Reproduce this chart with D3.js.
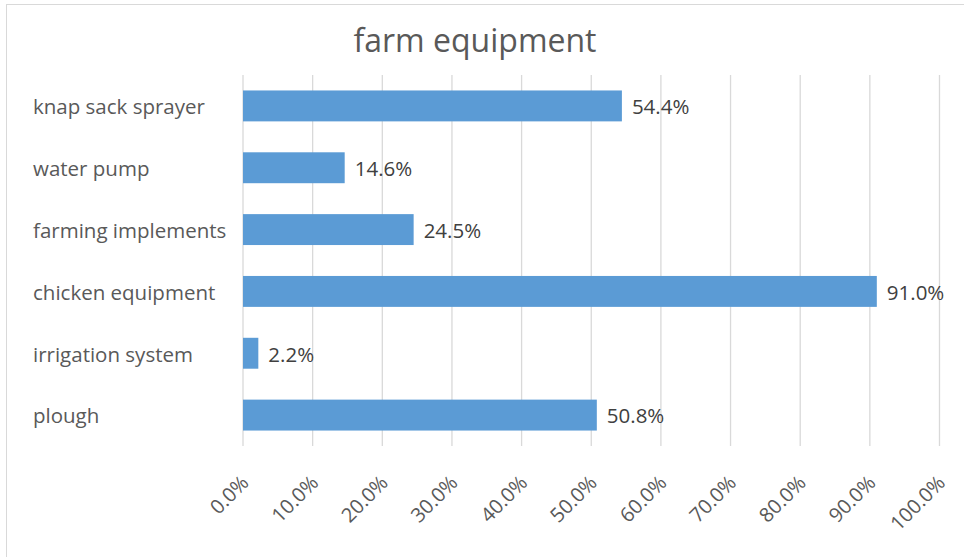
<!DOCTYPE html>
<html>
<head>
<meta charset="utf-8">
<script src="https://cdn.jsdelivr.net/npm/d3@7"></script>
<style>
  html, body { margin: 0; padding: 0; background: #fff; }
  svg { display: block; font-family: "Open Sans", "Noto Sans", sans-serif; }
</style>
</head>
<body>
<svg id="chart" width="964" height="557"></svg>
<script>
const categories = ["knap sack sprayer", "water pump", "farming implements", "chicken equipment", "irrigation system", "plough"];
const values = [54.4, 14.6, 24.5, 91.0, 2.2, 50.8];
const tickValues = [0, 10, 20, 30, 40, 50, 60, 70, 80, 90, 100];
const title = "farm equipment";

const svg = d3.select("#chart");
const W = 964, H = 557;
const margin = { left: 243, right: 24.5, top: 75, bottom: 111 };

svg.append("rect").attr("x", 6.5).attr("y", 4.5).attr("width", 1000).attr("height", 1000)
  .attr("fill", "#fff").attr("stroke", "#d9d9d9").attr("stroke-width", 1);

const x = d3.scaleLinear().domain([0, 100]).range([margin.left, W - margin.right]);
const y = d3.scaleBand().domain(categories).range([margin.top, H - margin.bottom]).paddingInner(0.5).paddingOuter(0.25);

// gridlines
svg.append("g").selectAll("line").data(tickValues).join("line")
  .attr("x1", d => x(d)).attr("x2", d => x(d))
  .attr("y1", margin.top).attr("y2", H - margin.bottom)
  .attr("stroke", "#d9d9d9").attr("stroke-width", 1.3);

// bars
svg.append("g").selectAll("rect").data(values).join("rect")
  .attr("x", x(0)).attr("y", (d, i) => y(categories[i]))
  .attr("width", d => x(d) - x(0)).attr("height", y.bandwidth())
  .attr("fill", "#5b9bd5");

// value labels
svg.append("g").selectAll("text").data(values).join("text")
  .attr("x", d => x(d) + 10).attr("y", (d, i) => y(categories[i]) + y.bandwidth() / 2 + 1)
  .attr("dy", "0.36em")
  .attr("font-size", 20.5).attr("fill", "#404040")
  .text(d => d.toFixed(1) + "%");

// category labels
svg.append("g").selectAll("text").data(categories).join("text")
  .attr("x", 33).attr("y", d => y(d) + y.bandwidth() / 2 + 1)
  .attr("dy", "0.36em")
  .attr("font-size", 20.5).attr("fill", "#595959")
  .text(d => d);

// x tick labels
svg.append("g").selectAll("text").data(tickValues).join("text")
  .attr("transform", d => `translate(${x(d) + 7},${484}) rotate(-45)`)
  .attr("text-anchor", "end")
  .attr("font-size", 20).attr("fill", "#595959")
  .text(d => d.toFixed(1) + "%");

// title
svg.append("text").attr("x", 475).attr("y", 52).attr("text-anchor", "middle")
  .attr("font-size", 32).attr("fill", "#595959")
  .text(title);
</script>
</body>
</html>
